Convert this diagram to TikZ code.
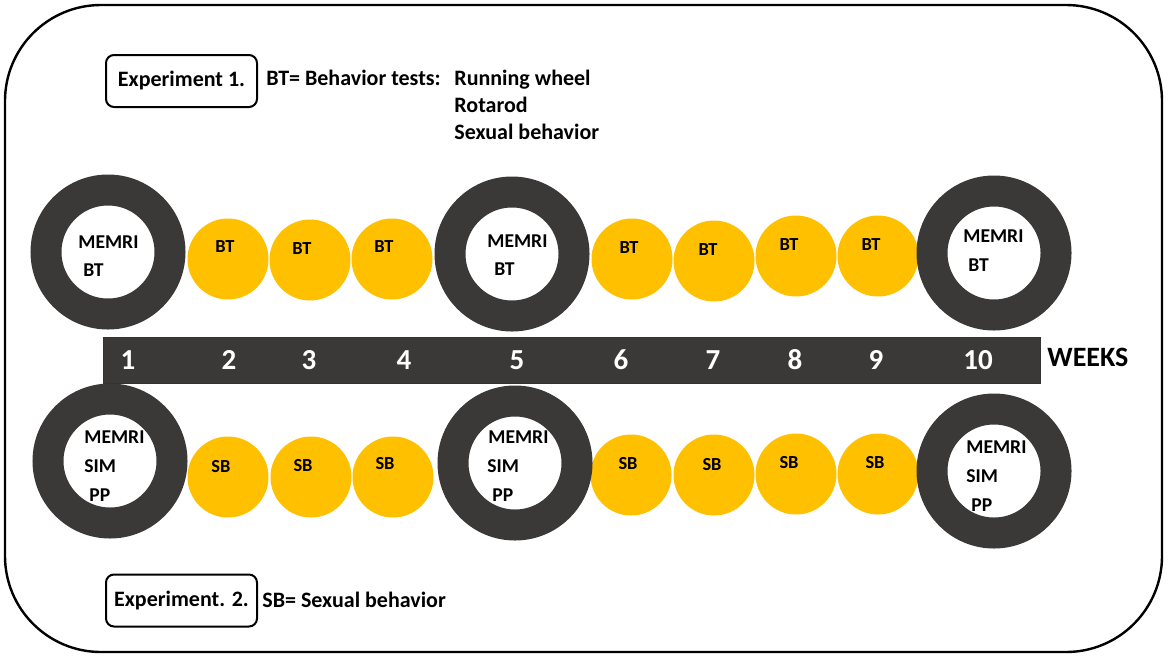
\documentclass[tikz,border=0pt]{standalone}
\usepackage{fontspec}
\setmainfont{Carlito}
\definecolor{ringgray}{RGB}{59,56,56}
\definecolor{dotgold}{RGB}{255,192,0}

\begin{document}
\begin{tikzpicture}[x=0.5pt,y=-0.5pt]

\def\ringsize{62pt}
\def\ringwidth{15.5pt}
\def\dotsize{40.5pt}

\tikzset{ring/.style = {circle, draw=ringgray, line width=\ringwidth, fill=white, minimum size=\ringsize, inner sep=0pt}}
\tikzset{dot/.style = {circle, fill=dotgold, minimum size=\dotsize, inner sep=0pt}}
\tikzset{ringtxt/.style = {anchor=west, inner sep=0pt, font=\fontsize{9.8}{11}\selectfont\bfseries}}
\tikzset{dottxt/.style = {inner sep=0pt, font=\fontsize{9.2}{11}\selectfont\bfseries}}
\tikzset{weeknum/.style = {inner sep=0pt, text=white, font=\fontsize{14.5}{16}\selectfont\bfseries}}
\tikzset{headtxt/.style = {anchor=base west, inner sep=0pt, font=\fontsize{11}{13}\selectfont\bfseries}}
\tikzset{expbox/.style = {draw, rounded corners=4pt, line width=1pt, minimum width=75.5pt, minimum height=26pt, inner sep=0pt, font=\fontsize{11}{13}\selectfont\bfseries}}

\useasboundingbox (0,0) rectangle (1170,659);
\draw[line width=1.2pt, rounded corners=48pt] (5,5) rectangle (1162,652);

% experiment 1 legend
\node[expbox] (E1) at (181.5,81) {Experiment 1.};
\node[headtxt] (BTkey) at (266,85) {BT= Behavior tests:};
\node[headtxt] (T1) at (454,85) {Running wheel};
\node[headtxt] (T2) at (454,112) {Rotarod};
\node[headtxt] (T3) at (454,139) {Sexual behavior};

% time line
\node[draw=black!80, line width=0.4pt, fill=ringgray, anchor=north west, minimum width=468.5pt, minimum height=23pt, inner sep=0pt] (bar) at (103,337) {};
\node[weeknum] (W1) at (128,360) {1};
\node[weeknum] (W2) at (229,360) {2};
\node[weeknum] (W3) at (309,360) {3};
\node[weeknum] (W4) at (404,360) {4};
\node[weeknum] (W5) at (517,360) {5};
\node[weeknum] (W6) at (621,360) {6};
\node[weeknum] (W7) at (713,360) {7};
\node[weeknum] (W8) at (795,360) {8};
\node[weeknum] (W9) at (876,360) {9};
\node[weeknum] (W10) at (978,360) {10};
\node[anchor=west, inner sep=0pt, font=\fontsize{14}{16}\selectfont\bfseries] (weeks) at (1047,357) {WEEKS};

% upper row
\node[dot] (Y2) at (228,259) {};
\node[dot] (Y3) at (310,260) {};
\node[dot] (Y4) at (392,259) {};
\node[dot] (Y6) at (632,259) {};
\node[dot] (Y7) at (714,261) {};
\node[dot] (Y8) at (796,256) {};
\node[dot] (Y9) at (878,256) {};
\path (Y2) node[dottxt] (Y2t) at +(-3,-12) {BT};
\path (Y3) node[dottxt] (Y3t) at +(-8,-11) {BT};
\path (Y4) node[dottxt] (Y4t) at +(-8,-12) {BT};
\path (Y6) node[dottxt] (Y6t) at +(-3,-11) {BT};
\path (Y7) node[dottxt] (Y7t) at +(-6,-11) {BT};
\path (Y8) node[dottxt] (Y8t) at +(-7,-11) {BT};
\path (Y9) node[dottxt] (Y9t) at +(-7,-11) {BT};

\node[ring] (R1) at (108,252) {};
\node[ring] (R5) at (512,254) {};
\node[ring] (R10) at (994,253) {};
\path (R1) node[ringtxt] (R1a) at +(-30,-10) {MEMRI};
\path (R1) node[ringtxt] (R1b) at +(-25,18) {BT};
\path (R5) node[ringtxt] (R5a) at +(-25,-13) {MEMRI};
\path (R5) node[ringtxt] (R5b) at +(-18,15) {BT};
\path (R10) node[ringtxt] (R10a) at +(-31,-17) {MEMRI};
\path (R10) node[ringtxt] (R10b) at +(-26,12) {BT};

% lower row
\node[dot] (Z2) at (228,477) {};
\node[dot] (Z3) at (311,477) {};
\node[dot] (Z4) at (393,477) {};
\node[dot] (Z6) at (631,475) {};
\node[dot] (Z7) at (714,475) {};
\node[dot] (Z8) at (796,474) {};
\node[dot] (Z9) at (878,474) {};
\path (Z2) node[dottxt] (Z2t) at +(-7,-10) {SB};
\path (Z3) node[dottxt] (Z3t) at +(-8,-11) {SB};
\path (Z4) node[dottxt] (Z4t) at +(-8,-13) {SB};
\path (Z6) node[dottxt] (Z6t) at +(-3,-11) {SB};
\path (Z7) node[dottxt] (Z7t) at +(-2,-10) {SB};
\path (Z8) node[dottxt] (Z8t) at +(-7,-11) {SB};
\path (Z9) node[dottxt] (Z9t) at +(-3,-11) {SB};

\node[ring] (S1) at (110,461) {};
\node[ring] (S5) at (515,463) {};
\node[ring] (S10) at (994,471) {};
\path (S1) node[ringtxt] (S1a) at +(-26,-24) {MEMRI};
\path (S1) node[ringtxt] (S1b) at +(-26,5) {SIM};
\path (S1) node[ringtxt] (S1c) at +(-21,34) {PP};
\path (S5) node[ringtxt] (S5a) at +(-27,-26) {MEMRI};
\path (S5) node[ringtxt] (S5b) at +(-28,3) {SIM};
\path (S5) node[ringtxt] (S5c) at +(-23,32) {PP};
\path (S10) node[ringtxt] (S10a) at +(-28,-24) {MEMRI};
\path (S10) node[ringtxt] (S10b) at +(-28,5) {SIM};
\path (S10) node[ringtxt] (S10c) at +(-23,34) {PP};

% experiment 2 legend
\node[expbox] (E2) at (181.5,600.5) {Experiment. 2.};
\node[headtxt] (SBkey) at (262,607) {SB= Sexual behavior};

\end{tikzpicture}
\end{document}
